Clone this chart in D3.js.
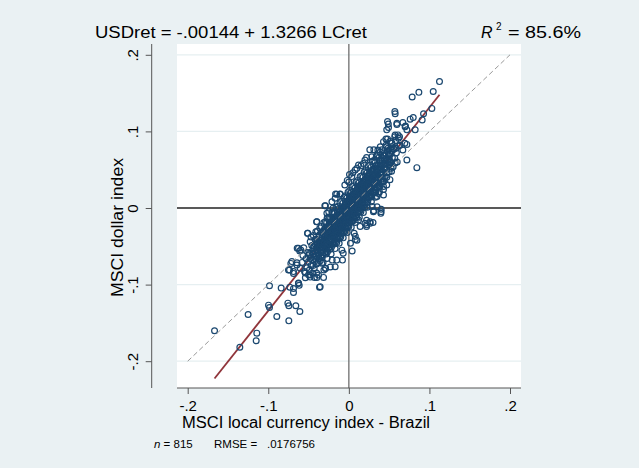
<!DOCTYPE html>
<html>
<head>
<meta charset="utf-8">
<script src="https://cdn.jsdelivr.net/npm/d3@7"></script>
<style>
  body { margin: 0; background: #eaf1f3; }
  text { font-family: "Liberation Sans", Arial, sans-serif; fill: #000; }
</style>
</head>
<body>
<div id="graph"></div>
<script>
// monthly-ish returns, [local currency return, dollar return]
var returns = [
  // lower left tail
  [-0.1667,-0.1603],[-0.1353,-0.1817],[-0.1142,-0.1634],[-0.115,-0.1734],[-0.125,-0.139],
  [-0.0985,-0.1015],[-0.0997,-0.1268],[-0.0985,-0.1298],[-0.0894,-0.1416],[-0.084,-0.1046],
  [-0.0745,-0.1473],[-0.0757,-0.1242],[-0.0745,-0.1277],[-0.0658,-0.1277],[-0.0608,-0.1351],
  [-0.0732,-0.1033],[-0.0687,-0.1102],[-0.0687,-0.105],[-0.0625,-0.0985],[-0.0616,-0.101],
  [-0.0364,-0.1033],[-0.048,-0.0902],[-0.0426,-0.0906],[-0.0397,-0.0906],[-0.0314,-0.0906],
  [-0.072,-0.0723],[-0.0645,-0.0715],[-0.0736,-0.081],[-0.0687,-0.0854],[-0.0641,-0.0527],
  [-0.0596,-0.0549],[-0.0513,-0.0331],[-0.0397,-0.0179],[-0.0298,0.003],[-0.0273,-0.007],
  [-0.0165,0.0183],[-0.0108,0.0183],[-0.0079,-0.068],[0.0041,-0.0562],[0.0008,0.0436],
  [0.0401,-0.0017],[0.0397,-0.007],[-0.051,-0.033],[-0.0625,-0.0526],[-0.061,-0.056],
  [-0.049,-0.059],[-0.0707,-0.070],[-0.0645,-0.0744],[-0.0749,-0.081],[-0.0687,-0.083],
  [-0.0604,-0.0787],[-0.054,-0.085],[-0.048,-0.0875],[-0.0377,-0.0875],[-0.029,-0.0787],
  [-0.017,-0.0766],[-0.0356,-0.1027],[-0.0625,-0.098],
  // stragglers round the core
  [0.0265,-0.020],[0.022,-0.022],[0.030,-0.019],[0.031,-0.0035],[0.0066,-0.033],
  [0.008,-0.041],[0.010,-0.042],[-0.0087,-0.055],[-0.0207,-0.068],[-0.029,-0.079],
  [-0.0335,-0.072],[0.0305,-0.0048],[0.040,-0.0048],[0.035,0.0017],[0.020,-0.020],
  [0.0264,-0.018],[0.022,-0.024],[0.012,-0.0157],[0.043,0.017],[0.047,0.030],[0.0367,0.019],
  [-0.015,0.018],[-0.011,0.018],[-0.029,0.003],[-0.040,-0.018],[-0.025,-0.005],
  [-0.021,0.008],[-0.017,0.0127],[-0.027,-0.0135],[-0.0195,0.0],
  [0.010,0.052],[0.018,0.058],[0.026,0.076],[0.031,0.076],[0.039,0.080],[0.022,0.066],
  [0.015,0.055],[0.005,0.046],[-0.005,0.030],[-0.002,0.036],
  [0.051,0.037],[0.043,0.024],[0.035,0.015],[0.029,0.002],[0.022,-0.016],[0.014,-0.024],
  [0.008,-0.037],[0.002,-0.046],[-0.007,-0.059],[-0.015,-0.068],[-0.023,-0.077],
  [-0.031,-0.081],[-0.040,-0.085],
  // upper right tail
  [0.1125,0.165],[0.1047,0.152],[0.0869,0.151],[0.0786,0.145],[0.103,0.130],[0.0927,0.123],
  [0.091,0.115],[0.0799,0.118],[0.0761,0.116],[0.0571,0.126],[0.0575,0.123],[0.048,0.113],
  [0.0492,0.105],[0.0596,0.109],[0.067,0.1115],[0.0703,0.107],[0.072,0.102],[0.0823,0.102],
  [0.061,0.0954],[0.0629,0.093],[0.0844,0.0527],[0.046,0.090],[0.048,0.090],[0.0695,0.0845],
  [0.072,0.083],[0.0587,0.078],[0.0616,0.081],[0.049,0.1097],[0.0596,0.1105],[0.0698,0.106],
  [0.047,0.102],[0.0574,0.0953],[0.0616,0.091],[0.053,0.0845],[0.047,0.080],[0.043,0.0866],
  [0.0636,0.082],[0.067,0.0757],[0.036,0.0757],[0.044,0.072],[0.0347,0.069],[0.0285,0.067],
  [0.020,0.0627],[0.012,0.056],[0.0037,0.041],[0.0,0.034],[0.0078,0.0496],[0.0575,0.0587],
  [0.072,0.0627],
  // core
  [-0.058,-0.071],[-0.056,-0.052],[-0.055,-0.083],[-0.053,-0.066],[-0.052,-0.078],
  [-0.051,-0.058],[-0.050,-0.087],[-0.054,-0.091],[-0.057,-0.062],[-0.050,-0.070],
  [-0.049,-0.061],[-0.048,-0.044],[-0.047,-0.075],[-0.046,-0.057],[-0.045,-0.068],
  [-0.049,-0.081],[-0.046,-0.049],[-0.048,-0.066],[-0.045,-0.085],[-0.047,-0.038],
  [-0.044,-0.052],[-0.043,-0.064],[-0.042,-0.041],[-0.041,-0.058],[-0.040,-0.073],
  [-0.044,-0.036],[-0.043,-0.079],[-0.042,-0.047],[-0.041,-0.067],[-0.040,-0.054],
  [-0.044,-0.060],[-0.041,-0.031],
  [-0.039,-0.046],[-0.038,-0.059],[-0.037,-0.038],[-0.036,-0.052],[-0.035,-0.064],
  [-0.039,-0.030],[-0.038,-0.071],[-0.037,-0.049],[-0.036,-0.042],[-0.035,-0.057],
  [-0.039,-0.055],[-0.037,-0.066],[-0.036,-0.026],[-0.035,-0.047],
  [-0.034,-0.040],[-0.033,-0.052],[-0.032,-0.031],[-0.031,-0.045],[-0.030,-0.058],
  [-0.034,-0.024],[-0.033,-0.065],[-0.032,-0.043],[-0.031,-0.036],[-0.030,-0.049],
  [-0.034,-0.055],[-0.032,-0.071],[-0.031,-0.019],[-0.030,-0.040],[-0.033,-0.046],[-0.032,-0.058],
  [-0.029,-0.034],[-0.028,-0.046],[-0.027,-0.025],[-0.026,-0.039],[-0.025,-0.052],
  [-0.029,-0.018],[-0.028,-0.060],[-0.027,-0.036],[-0.026,-0.030],[-0.025,-0.043],
  [-0.029,-0.049],[-0.027,-0.066],[-0.026,-0.012],[-0.025,-0.033],[-0.028,-0.040],
  [-0.027,-0.054],[-0.029,-0.027],[-0.025,-0.022],
  [-0.024,-0.028],[-0.023,-0.040],[-0.022,-0.019],[-0.021,-0.033],[-0.020,-0.046],
  [-0.024,-0.012],[-0.023,-0.054],[-0.022,-0.030],[-0.021,-0.024],[-0.020,-0.037],
  [-0.024,-0.043],[-0.022,-0.060],[-0.021,-0.006],[-0.020,-0.027],[-0.023,-0.034],
  [-0.022,-0.048],[-0.024,-0.021],[-0.020,-0.016],[-0.021,-0.041],[-0.023,-0.025],
  [-0.019,-0.021],[-0.018,-0.033],[-0.017,-0.012],[-0.016,-0.026],[-0.015,-0.039],
  [-0.019,-0.005],[-0.018,-0.047],[-0.017,-0.023],[-0.016,-0.017],[-0.015,-0.030],
  [-0.019,-0.036],[-0.017,-0.053],[-0.016,0.001],[-0.015,-0.020],[-0.018,-0.027],
  [-0.017,-0.041],[-0.019,-0.014],[-0.015,-0.009],[-0.016,-0.034],[-0.018,-0.018],
  [-0.017,-0.030],[-0.015,-0.045],
  [-0.014,-0.015],[-0.013,-0.027],[-0.012,-0.006],[-0.011,-0.020],[-0.010,-0.032],
  [-0.014,0.002],[-0.013,-0.040],[-0.012,-0.017],[-0.011,-0.011],[-0.010,-0.024],
  [-0.014,-0.030],[-0.012,-0.046],[-0.011,0.007],[-0.010,-0.013],[-0.013,-0.021],
  [-0.012,-0.034],[-0.014,-0.008],[-0.010,-0.003],[-0.011,-0.028],[-0.013,-0.012],
  [-0.012,-0.024],[-0.010,-0.038],
  [-0.009,-0.008],[-0.008,-0.020],[-0.007,0.001],[-0.006,-0.013],[-0.005,-0.025],
  [-0.009,0.009],[-0.008,-0.033],[-0.007,-0.010],[-0.006,-0.004],[-0.005,-0.017],
  [-0.009,-0.023],[-0.007,-0.039],[-0.006,0.014],[-0.005,-0.006],[-0.008,-0.014],
  [-0.007,-0.027],[-0.009,-0.001],[-0.005,0.004],[-0.006,-0.021],[-0.008,-0.005],
  [-0.007,-0.017],[-0.005,-0.031],
  [-0.004,-0.002],[-0.003,-0.014],[-0.002,0.008],[-0.001,-0.006],[0.000,-0.019],
  [-0.004,0.016],[-0.003,-0.026],[-0.002,-0.003],[-0.001,0.003],[0.000,-0.010],
  [-0.004,-0.016],[-0.002,-0.032],[-0.001,0.021],[0.000,0.001],[-0.003,-0.007],
  [-0.002,-0.020],[-0.004,0.006],[0.000,0.011],[-0.001,-0.014],[-0.003,0.002],
  [-0.002,-0.010],[0.000,-0.024],
  [0.001,0.005],[0.002,-0.007],[0.003,0.015],[0.004,0.001],[0.005,-0.012],
  [0.001,0.023],[0.002,-0.019],[0.003,0.004],[0.004,0.010],[0.005,-0.003],
  [0.001,-0.009],[0.003,-0.025],[0.004,0.028],[0.005,0.008],[0.002,0.000],
  [0.003,-0.013],[0.001,0.013],[0.005,0.018],[0.004,-0.007],[0.002,0.009],
  [0.003,-0.003],[0.005,-0.017],
  [0.006,0.011],[0.007,-0.001],[0.008,0.021],[0.009,0.007],[0.010,-0.006],
  [0.006,0.029],[0.007,-0.013],[0.008,0.010],[0.009,0.016],[0.010,0.003],
  [0.006,-0.003],[0.008,-0.019],[0.009,0.034],[0.010,0.014],[0.007,0.006],
  [0.008,-0.007],[0.006,0.019],[0.010,0.024],[0.009,-0.001],[0.007,0.015],
  [0.008,0.003],[0.010,-0.012],
  [0.011,0.018],[0.012,0.006],[0.013,0.028],[0.014,0.014],[0.015,0.001],
  [0.011,0.036],[0.012,-0.006],[0.013,0.017],[0.014,0.023],[0.015,0.010],
  [0.011,0.004],[0.013,-0.012],[0.014,0.041],[0.015,0.021],[0.012,0.013],
  [0.013,0.000],[0.011,0.026],[0.015,0.031],[0.014,0.006],[0.012,0.022],
  [0.013,0.010],[0.015,-0.005],
  [0.016,0.024],[0.017,0.012],[0.018,0.034],[0.019,0.020],[0.020,0.007],
  [0.016,0.042],[0.017,0.000],[0.018,0.023],[0.019,0.029],[0.020,0.016],
  [0.016,0.010],[0.018,-0.006],[0.019,0.047],[0.020,0.027],[0.017,0.019],
  [0.018,0.006],[0.016,0.032],[0.020,0.037],[0.019,0.012],[0.017,0.028],
  [0.018,0.016],[0.020,0.001],
  [0.021,0.031],[0.022,0.019],[0.023,0.041],[0.024,0.027],[0.025,0.014],
  [0.021,0.049],[0.022,0.007],[0.023,0.030],[0.024,0.036],[0.025,0.023],
  [0.021,0.017],[0.023,0.001],[0.024,0.054],[0.025,0.034],[0.022,0.026],
  [0.023,0.013],[0.021,0.039],[0.025,0.044],[0.024,0.019],[0.022,0.035],
  [0.026,0.038],[0.027,0.026],[0.028,0.048],[0.029,0.034],[0.030,0.021],
  [0.026,0.056],[0.027,0.014],[0.028,0.037],[0.029,0.043],[0.030,0.030],
  [0.026,0.024],[0.028,0.008],[0.029,0.061],[0.030,0.041],[0.027,0.033],
  [0.028,0.020],[0.026,0.046],[0.030,0.051],
  [0.031,0.044],[0.032,0.032],[0.033,0.054],[0.034,0.040],[0.035,0.027],
  [0.031,0.062],[0.032,0.020],[0.033,0.043],[0.034,0.049],[0.035,0.036],
  [0.031,0.030],[0.033,0.014],[0.034,0.067],[0.035,0.047],[0.032,0.039],[0.033,0.026],
  [0.036,0.051],[0.037,0.039],[0.038,0.061],[0.039,0.047],[0.040,0.034],
  [0.036,0.069],[0.037,0.027],[0.038,0.050],[0.039,0.056],[0.040,0.043],
  [0.036,0.037],[0.038,0.021],[0.039,0.073],[0.040,0.054],
  [0.041,0.058],[0.042,0.046],[0.043,0.068],[0.044,0.054],[0.045,0.041],
  [0.041,0.076],[0.042,0.034],[0.043,0.057],[0.044,0.063],[0.045,0.050],
  [0.041,0.044],[0.043,0.028],
  [0.046,0.064],[0.047,0.052],[0.048,0.074],[0.049,0.060],[0.050,0.047],
  [0.046,0.082],[0.047,0.040],[0.048,0.063],[0.049,0.069],[0.050,0.056],
  [0.051,0.071],[0.052,0.059],[0.053,0.080],[0.054,0.066],[0.055,0.054],
  [0.051,0.087],[0.053,0.048],[0.054,0.075],
  [0.056,0.077],[0.057,0.065],[0.058,0.088],[0.059,0.072],[0.060,0.060],[0.057,0.093],
  // core, second pass between the first readings
  [-0.0435,-0.049],[-0.0425,-0.070],[-0.0415,-0.044],[-0.0405,-0.062],[-0.0445,-0.075],[-0.0425,-0.056],
  [-0.0395,-0.041],[-0.0385,-0.052],[-0.0375,-0.063],[-0.0365,-0.035],[-0.0355,-0.069],[-0.0375,-0.044],[-0.0355,-0.051],
  [-0.0345,-0.047],[-0.0335,-0.035],[-0.0325,-0.061],[-0.0315,-0.052],[-0.0305,-0.028],[-0.0335,-0.057],[-0.0305,-0.044],[-0.0345,-0.032],
  [-0.0295,-0.041],[-0.0285,-0.029],[-0.0275,-0.047],[-0.0265,-0.057],[-0.0255,-0.037],[-0.0285,-0.053],[-0.0255,-0.027],[-0.0275,-0.019],
  [-0.0245,-0.035],[-0.0235,-0.022],[-0.0225,-0.043],[-0.0215,-0.051],[-0.0205,-0.031],[-0.0235,-0.047],[-0.0205,-0.021],[-0.0225,-0.013],
  [-0.0195,-0.029],[-0.0185,-0.015],[-0.0175,-0.036],[-0.0165,-0.044],[-0.0155,-0.024],[-0.0185,-0.040],[-0.0155,-0.014],[-0.0175,-0.007],
  [-0.0145,-0.022],[-0.0135,-0.009],[-0.0125,-0.030],[-0.0115,-0.038],[-0.0105,-0.018],[-0.0135,-0.034],[-0.0105,-0.008],[-0.0125,-0.001],
  [-0.0095,-0.016],[-0.0085,-0.002],[-0.0075,-0.023],[-0.0065,-0.031],[-0.0055,-0.011],[-0.0085,-0.027],[-0.0055,0.000],[-0.0075,0.006],
  [-0.0045,-0.009],[-0.0035,0.004],[-0.0025,-0.016],[-0.0015,-0.024],[-0.0005,-0.004],[-0.0035,-0.021],[-0.0005,0.007],[-0.0025,0.013],
  [0.0005,-0.003],[0.0015,0.010],[0.0025,-0.010],[0.0035,-0.018],[0.0045,0.003],[0.0015,-0.014],[0.0045,0.014],[0.0025,0.020],
  [0.0055,0.004],[0.0065,0.016],[0.0075,-0.004],[0.0085,-0.011],[0.0095,0.009],[0.0065,-0.008],[0.0095,0.020],[0.0075,0.026],
  [0.0105,0.010],[0.0115,0.023],[0.0125,0.002],[0.0135,-0.004],[0.0145,0.017],[0.0115,-0.001],[0.0145,0.027],[0.0125,0.033],
  [0.0155,0.017],[0.0165,0.029],[0.0175,0.008],[0.0185,0.003],[0.0195,0.024],[0.0165,0.005],[0.0195,0.034],[0.0175,0.040],
  [0.0205,0.023],[0.0215,0.036],[0.0225,0.014],[0.0235,0.008],[0.0245,0.031],[0.0215,0.011],[0.0245,0.041],[0.0225,0.046],
  [0.0255,0.030],[0.0265,0.042],[0.0275,0.020],[0.0285,0.015],[0.0295,0.038],[0.0265,0.017],[0.0295,0.048],[0.0275,0.053],
  [0.0305,0.037],[0.0315,0.049],[0.0325,0.027],[0.0335,0.021],[0.0345,0.044],[0.0315,0.024],[0.0345,0.055],[0.0325,0.059],
  [0.0355,0.043],[0.0365,0.056],[0.0375,0.033],[0.0385,0.028],[0.0395,0.050],[0.0365,0.031],[0.0395,0.062],[0.0375,0.066],
  [0.0405,0.050],[0.0415,0.062],[0.0425,0.040],[0.0435,0.035],[0.0445,0.058],[0.0415,0.038],[0.0445,0.069],
  [0.0455,0.057],[0.0465,0.070],[0.0475,0.046],[0.0485,0.078],[0.0495,0.064],
  [0.0505,0.062],[0.0515,0.077],[0.0525,0.052],[0.0535,0.085]
];

var x_ticks = [-0.2, -0.1, 0, 0.1, 0.2];
var x_tick_labels = ["-.2", "-.1", "0", ".1", ".2"];
var y_ticks = [-0.2, -0.1, 0, 0.1, 0.2];
var y_tick_labels = ["-.2", "-.1", "0", ".1", ".2"];

var fit_intercept = -0.00144;
var fit_slope = 1.3266;
var diagonal = [-0.2, 0.2];

var title_text = "USDret = -.00144 + 1.3266 LCret";
var r2_text = "= 85.6%";
var x_title = "MSCI local currency index - Brazil";
var y_title = "MSCI dollar index";
var n_text = " = 815";
var rmse_label = "RMSE =";
var rmse_value = ".0176756";

var width = 639, height = 468;
var plot = {left: 177, right: 521, top: 44, bottom: 388};

var svg = d3.select("#graph")
  .append("svg")
    .attr("width", width)
    .attr("height", height);

svg.append("rect")
  .attr("width", width)
  .attr("height", height)
  .attr("fill", "#eaf1f3");

svg.append("rect")
  .attr("x", plot.left)
  .attr("y", plot.top)
  .attr("width", plot.right - plot.left)
  .attr("height", plot.bottom - plot.top)
  .attr("fill", "white");

var x = d3.scaleLinear()
  .domain([-0.2, 0.2])
  .range([187.7, 510]);

var y = d3.scaleLinear()
  .domain([-0.2, 0.2])
  .range([361.2, 54.8]);

// grid
svg.selectAll("grid")
  .data(y_ticks.filter(function(d) { return d !== 0; }))
  .enter()
  .append("line")
    .attr("x1", plot.left)
    .attr("x2", plot.right)
    .attr("y1", function(d) { return y(d); })
    .attr("y2", function(d) { return y(d); })
    .attr("stroke", "#e6eff1")
    .attr("stroke-width", 1.2);

// reference lines at zero
svg.append("line")
  .attr("x1", x(0)).attr("x2", x(0))
  .attr("y1", plot.top).attr("y2", plot.bottom)
  .attr("stroke", "#6f6f6f")
  .attr("stroke-width", 1.3);

svg.append("line")
  .attr("x1", plot.left).attr("x2", plot.right)
  .attr("y1", y(0)).attr("y2", y(0))
  .attr("stroke", "#222")
  .attr("stroke-width", 1.3);

// fitted line over the range of the data
var x_range = d3.extent(returns, function(d) { return d[0]; });
svg.append("path")
  .datum(x_range)
  .attr("fill", "none")
  .attr("stroke", "#90353b")
  .attr("stroke-width", 1.8)
  .attr("d", d3.line()
    .x(function(d) { return x(d); })
    .y(function(d) { return y(fit_intercept + fit_slope * d); })
  );

svg.append("g")
  .selectAll("dot")
  .data(returns)
  .enter()
  .append("circle")
    .attr("cx", function(d) { return x(d[0]); })
    .attr("cy", function(d) { return y(d[1]); })
    .attr("r", 2.9)
    .attr("fill", "none")
    .attr("stroke", "#1a476f")
    .attr("stroke-width", 1.2);

// 45 degree line
svg.append("path")
  .datum(diagonal)
  .attr("fill", "none")
  .attr("stroke", "#999")
  .attr("stroke-width", 1)
  .attr("stroke-dasharray", "5,3")
  .attr("d", d3.line()
    .x(function(d) { return x(d); })
    .y(function(d) { return y(d); })
  );

// axes
svg.append("line")
  .attr("x1", 151.7).attr("x2", 151.7)
  .attr("y1", plot.top).attr("y2", plot.bottom)
  .attr("stroke", "#555");

svg.append("line")
  .attr("x1", plot.left).attr("x2", plot.right)
  .attr("y1", plot.bottom).attr("y2", plot.bottom)
  .attr("stroke", "#555");

var x_axis = svg.append("g")
  .attr("transform", "translate(0," + plot.bottom + ")")
  .call(d3.axisBottom(x)
    .tickValues(x_ticks)
    .tickFormat(function(d, i) { return x_tick_labels[i]; })
    .tickSize(6)
    .tickSizeOuter(0));
x_axis.select(".domain").remove();
x_axis.selectAll(".tick line").attr("stroke", "#555");
x_axis.selectAll(".tick text")
  .attr("y", 22.5)
  .attr("dy", null)
  .style("font-family", "'Liberation Sans', Arial, sans-serif")
  .style("font-size", "15px");

var y_axis = svg.append("g")
  .attr("transform", "translate(151.7,0)")
  .call(d3.axisLeft(y)
    .tickValues(y_ticks)
    .tickFormat(function(d, i) { return y_tick_labels[i]; })
    .tickSize(6)
    .tickSizeOuter(0));
y_axis.select(".domain").remove();
y_axis.selectAll(".tick line").attr("stroke", "#555");
y_axis.selectAll(".tick text")
  .attr("x", null)
  .attr("dy", null)
  .attr("transform", "translate(-14.2,0) rotate(-90)")
  .attr("text-anchor", "middle")
  .style("font-family", "'Liberation Sans', Arial, sans-serif")
  .style("font-size", "15px");

// titles
svg.append("text")
  .attr("x", 95)
  .attr("y", 37.5)
  .attr("textLength", 272)
  .attr("lengthAdjust", "spacingAndGlyphs")
  .style("font-size", "16px")
  .text(title_text);

svg.append("text")
  .attr("x", 481)
  .attr("y", 37.5)
  .style("font-size", "16px")
  .style("font-style", "italic")
  .text("R");
svg.append("text")
  .attr("x", 496)
  .attr("y", 30)
  .style("font-size", "10px")
  .text("2");
svg.append("text")
  .attr("x", 508)
  .attr("y", 37.5)
  .attr("textLength", 73)
  .attr("lengthAdjust", "spacingAndGlyphs")
  .style("font-size", "16px")
  .text(r2_text);

svg.append("text")
  .attr("x", 306)
  .attr("y", 428)
  .attr("text-anchor", "middle")
  .attr("textLength", 248)
  .attr("lengthAdjust", "spacingAndGlyphs")
  .style("font-size", "16px")
  .text(x_title);

svg.append("text")
  .attr("transform", "translate(122.5,227.5) rotate(-90)")
  .attr("text-anchor", "middle")
  .attr("textLength", 139)
  .attr("lengthAdjust", "spacingAndGlyphs")
  .style("font-size", "16px")
  .text(y_title);

// footnote
var note = svg.append("text")
  .attr("x", 154)
  .attr("y", 447.5)
  .style("font-size", "11.5px");
note.append("tspan").style("font-style", "italic").text("n");
note.append("tspan").text(n_text);

svg.append("text")
  .attr("x", 214)
  .attr("y", 447.5)
  .style("font-size", "11.5px")
  .text(rmse_label);

svg.append("text")
  .attr("x", 267)
  .attr("y", 447.5)
  .style("font-size", "11.5px")
  .text(rmse_value);
</script>
</body>
</html>
